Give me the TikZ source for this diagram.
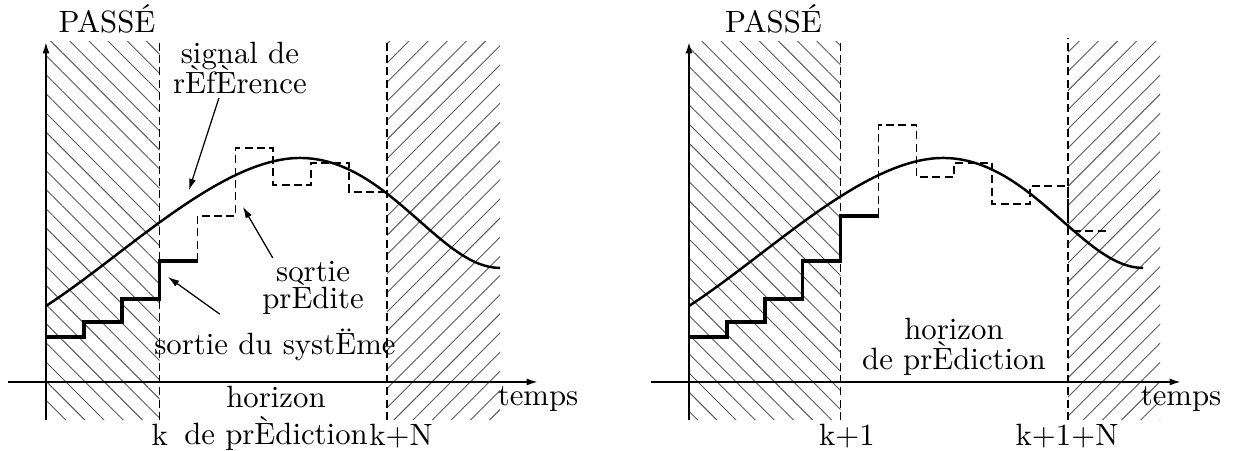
\documentclass[tikz,border=0pt]{standalone}
\usetikzlibrary{patterns.meta, arrows.meta}
\lineskiplimit=-\maxdimen

\begin{document}
\begin{tikzpicture}[
    >={Latex[length=1.3mm, width=0.8mm]},
    axis/.style={->, line width=0.6pt},
    limit/.style={line width=0.5pt, dash pattern=on 2.6pt off 1.4pt},
    hatch_past/.style={pattern={Lines[angle=-45, distance=4.4pt, line width=0.3pt]}, pattern color=black!65},
    hatch_future/.style={pattern={Lines[angle=45, distance=4.4pt, line width=0.3pt]}, pattern color=black!65},
    ref_sig/.style={line width=0.8pt},
    out_sig/.style={line width=1.1pt},
    pred_sig/.style={line width=0.6pt, dash pattern=on 2.6pt off 1.4pt},
    annot/.style={->, line width=0.4pt},
    label_font/.style={align=center, inner sep=1pt}
]

\useasboundingbox (-0.525,-0.777) rectangle (13.635,4.362);

% 1. 왼쪽: 시각 k
\begin{scope}
\path[hatch_past] (0,-0.434) rectangle (1.298,3.883);
\path[hatch_future] (3.895,-0.434) rectangle (5.185,3.883);
\draw[limit] (1.298,-0.434) -- (1.298,3.883);
\draw[limit] (3.895,-0.434) -- (3.895,3.883);
\draw[axis] (0,-0.434) -- (0,3.883);
\draw[axis] (-0.434,0) -- (5.619,0);

\draw[ref_sig] (0,0.868) .. controls (0.9,1.45) and (2.0,2.558) .. (2.901,2.558)
    .. controls (3.9,2.558) and (4.5,1.302) .. (5.185,1.302);
\draw[out_sig] (0,0.514) -- (0.433,0.514) -- (0.433,0.685) -- (0.866,0.685) -- (0.866,0.948) -- (1.298,0.948) -- (1.298,1.382) -- (1.731,1.382);
\draw[pred_sig] (1.731,1.382) -- (1.731,1.896) -- (2.164,1.896) -- (2.164,2.672) -- (2.597,2.672) -- (2.597,2.250) -- (3.030,2.250) -- (3.030,2.501) -- (3.462,2.501) -- (3.462,2.170) -- (3.895,2.170);

\node[anchor=base] (passeL) at (0.697,3.986) {PASS\'E};
\node[label_font] (refL) at (2.215,3.581) {signal de\\[-2.2pt]r\`Ef\`Erence};
\node[label_font] (predL) at (3.050,1.070) {sortie\\[-3.2pt]pr\`Edite};
\node[anchor=base] (sysL) at (2.615,0.308) {sortie du syst\"Eme};
\node[label_font] (horL) at (2.627,-0.410) {horizon\\de pr\`Ediction};
\node[anchor=base] (kL) at (1.298,-0.731) {k};
\node[anchor=base] (knL) at (4.054,-0.720) {k+N};
\node[anchor=base] (tempsL) at (5.619,-0.274) {temps};

% 2. 주석 화살표
\coordinate (refHead) at (1.633,2.190);
\coordinate (predHead) at (2.250,1.999);
\coordinate (sysHead) at (1.393,1.199);
\draw[annot] ([xshift=-2.4mm]refL.south) -- (refHead);
\draw[annot] ([xshift=-4.6mm]predL.north) -- (predHead);
\draw[annot] ([xshift=-6.3mm, yshift=0.5mm]sysL.north) -- (sysHead);
\end{scope}

% 3. 오른쪽: 시각 k+1
\begin{scope}[xshift=7.343cm]
\path[hatch_past] (0,-0.434) rectangle (1.731,3.883);
\path[hatch_future] (4.328,-0.434) rectangle (5.379,3.883);
\draw[limit] (1.731,-0.434) -- (1.731,3.883);
\draw[limit] (4.328,-0.434) -- (4.328,3.93);
\draw[axis] (0,-0.434) -- (0,3.883);
\draw[axis] (-0.434,0) -- (5.619,0);

\draw[ref_sig] (0,0.868) .. controls (0.9,1.45) and (2.0,2.558) .. (2.901,2.558)
    .. controls (3.9,2.558) and (4.5,1.302) .. (5.185,1.302);
\draw[out_sig] (0,0.514) -- (0.433,0.514) -- (0.433,0.685) -- (0.866,0.685) -- (0.866,0.948) -- (1.298,0.948) -- (1.298,1.382) -- (1.731,1.382) -- (1.731,1.896) -- (2.164,1.896);
\draw[pred_sig] (2.164,1.896) -- (2.164,2.935) -- (2.597,2.935) -- (2.597,2.341) -- (3.030,2.341) -- (3.030,2.501) -- (3.462,2.501) -- (3.462,2.033) -- (3.895,2.033) -- (3.895,2.238) -- (4.328,2.238) -- (4.328,1.724) -- (4.761,1.724);

\node[anchor=base] (passeR) at (0.965,3.986) {PASS\'E};
\node[label_font] (horR) at (3.026,0.402) {horizon\\[-2pt]de pr\`Ediction};
\node[anchor=base] (kR) at (1.804,-0.720) {k+1};
\node[anchor=base] (knR) at (4.317,-0.720) {k+1+N};
\node[anchor=base] (tempsR) at (5.619,-0.274) {temps};
\end{scope}

\end{tikzpicture}
\end{document}
